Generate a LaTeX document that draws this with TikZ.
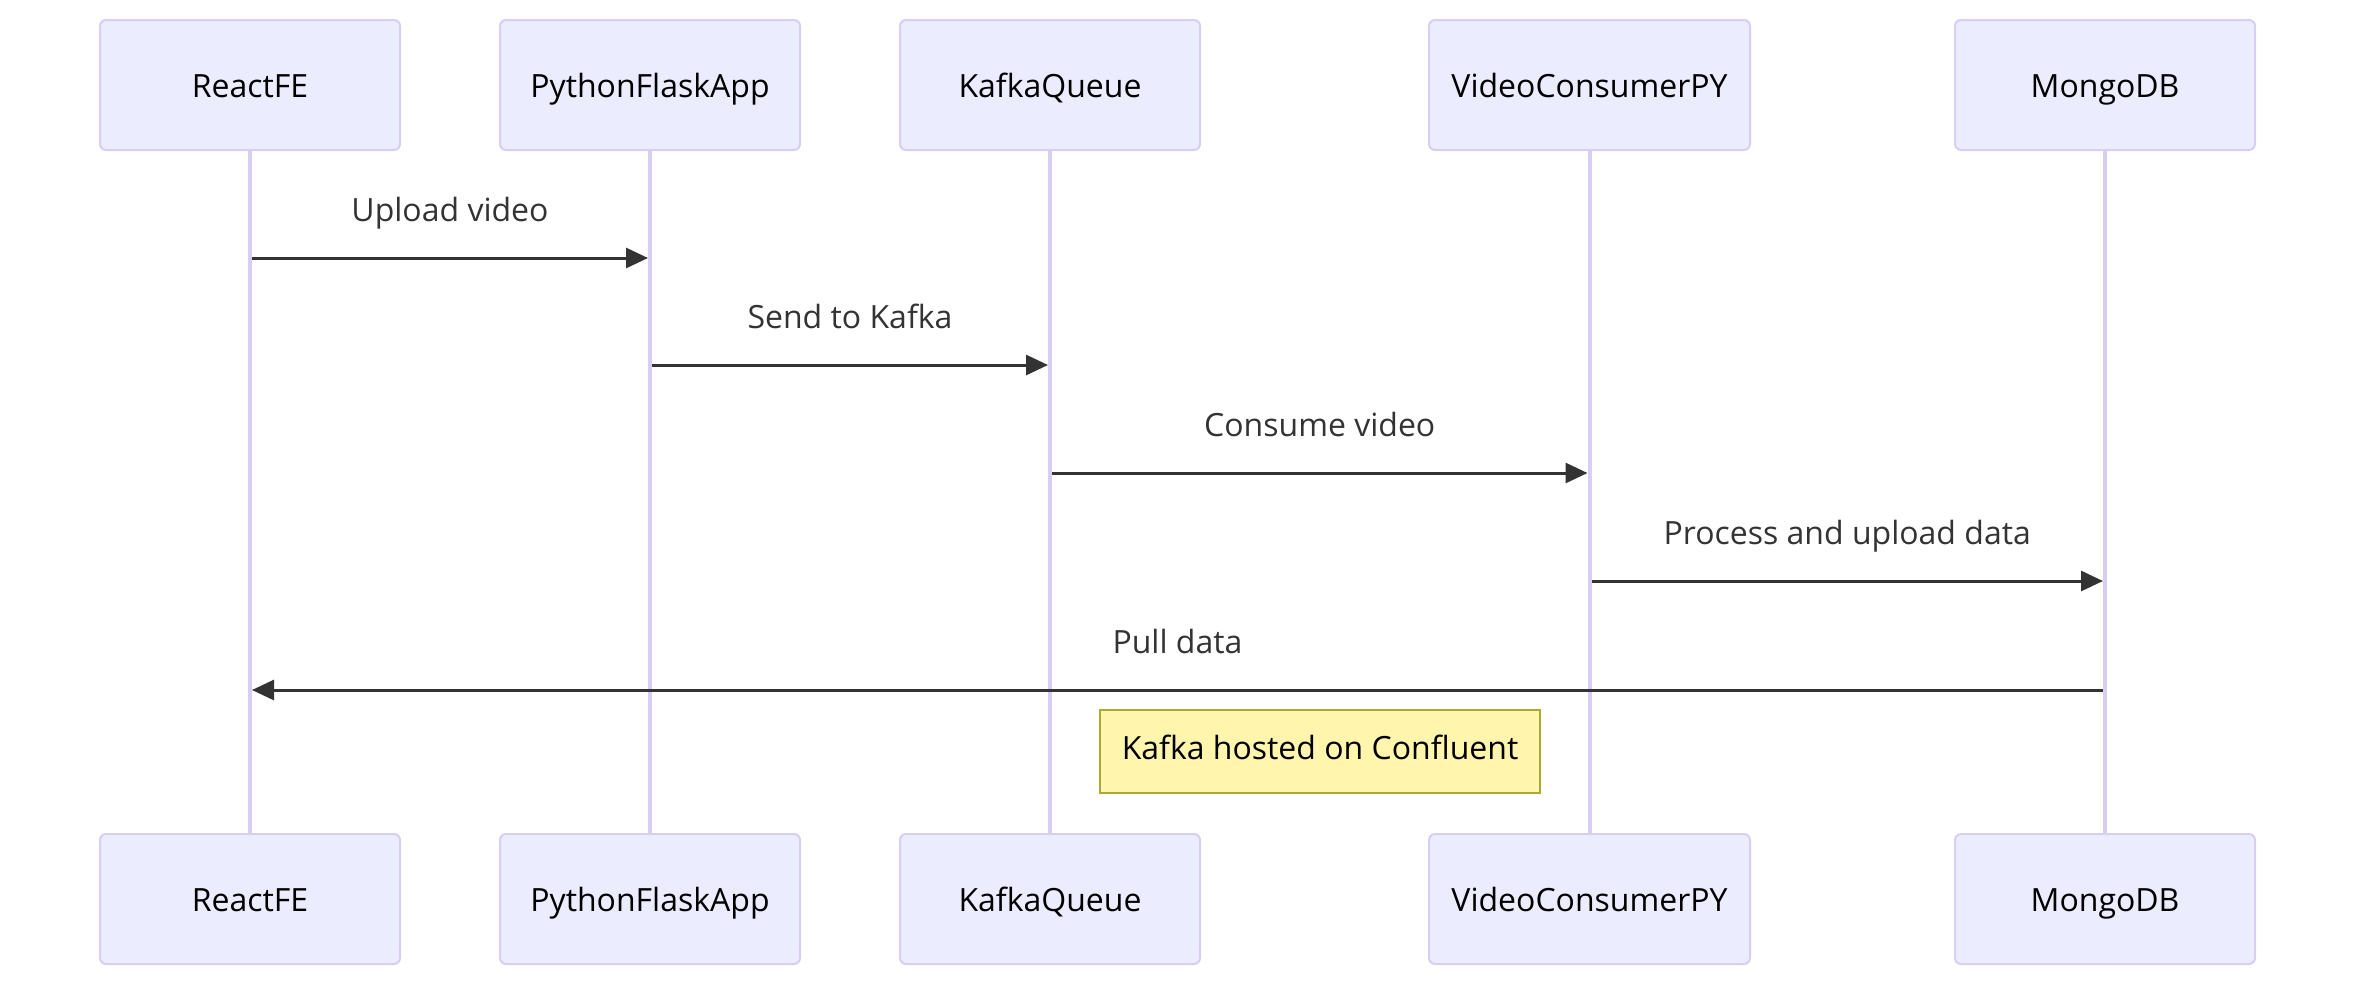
\documentclass[tikz,border=0pt]{standalone}
\usepackage{fontspec}
\setmainfont{Open Sans}
\usetikzlibrary{arrows.meta}
\definecolor{actorfill}{HTML}{ECECFF}
\definecolor{actorline}{HTML}{D8CEF3}
\definecolor{msgline}{HTML}{333333}
\definecolor{notefill}{HTML}{FFF5AD}
\definecolor{noteline}{HTML}{AAAA33}
\tikzset{
  actor/.style={draw=actorline, fill=actorfill, line width=1pt, rounded corners=3pt,
    minimum height=65pt, inner sep=0pt, text height=12.8pt, text depth=0pt,
    font=\fontsize{16}{19}\selectfont},
  life/.style={draw=actorline, line width=2pt},
  msg/.style={draw=msgline, line width=1.5pt, -{Triangle[length=11pt,width=10pt]}},
  lab/.style={text=msgline, anchor=base, yshift=18.5pt, font=\fontsize{16}{19}\selectfont},
  note/.style={draw=noteline, fill=notefill, line width=1pt, minimum width=220pt,
    minimum height=41.5pt, inner sep=0pt, text height=8pt, text depth=0pt,
    font=\fontsize{16}{19}\selectfont},
}
\begin{document}
\begin{tikzpicture}[x=0.5pt,y=-0.5pt]
  \useasboundingbox (0,0) rectangle (2356,986);
  % actors, top and bottom
  \foreach \N/\X/\W/\T in {React/250/150/ReactFE,Flask/650/150/PythonFlaskApp,
      Kafka/1050/150/KafkaQueue,Video/1589.5/160.5/VideoConsumerPY,Mongo/2105/150/MongoDB}{
    \node[actor, minimum width=\W pt] (t\N) at (\X,85) {\T};
    \node[actor, minimum width=\W pt] (b\N) at (\X,899) {\T};
    \draw[life] (t\N.south) -- (b\N.north);
  }
  % messages
  \foreach \A/\B/\Y/\T in {React/Flask/258/Upload video,Flask/Kafka/365/Send to Kafka,
      Kafka/Video/473/Consume video,Video/Mongo/581/Process and upload data,
      Mongo/React/690/Pull data}
    \draw[msg, shorten <=1pt, shorten >=1pt] (t\A |- 0,\Y) -- node[lab] {\T} (t\B |- 0,\Y);
  \node[note] (conf) at (1320,751) {Kafka hosted on Confluent};
\end{tikzpicture}
\end{document}
